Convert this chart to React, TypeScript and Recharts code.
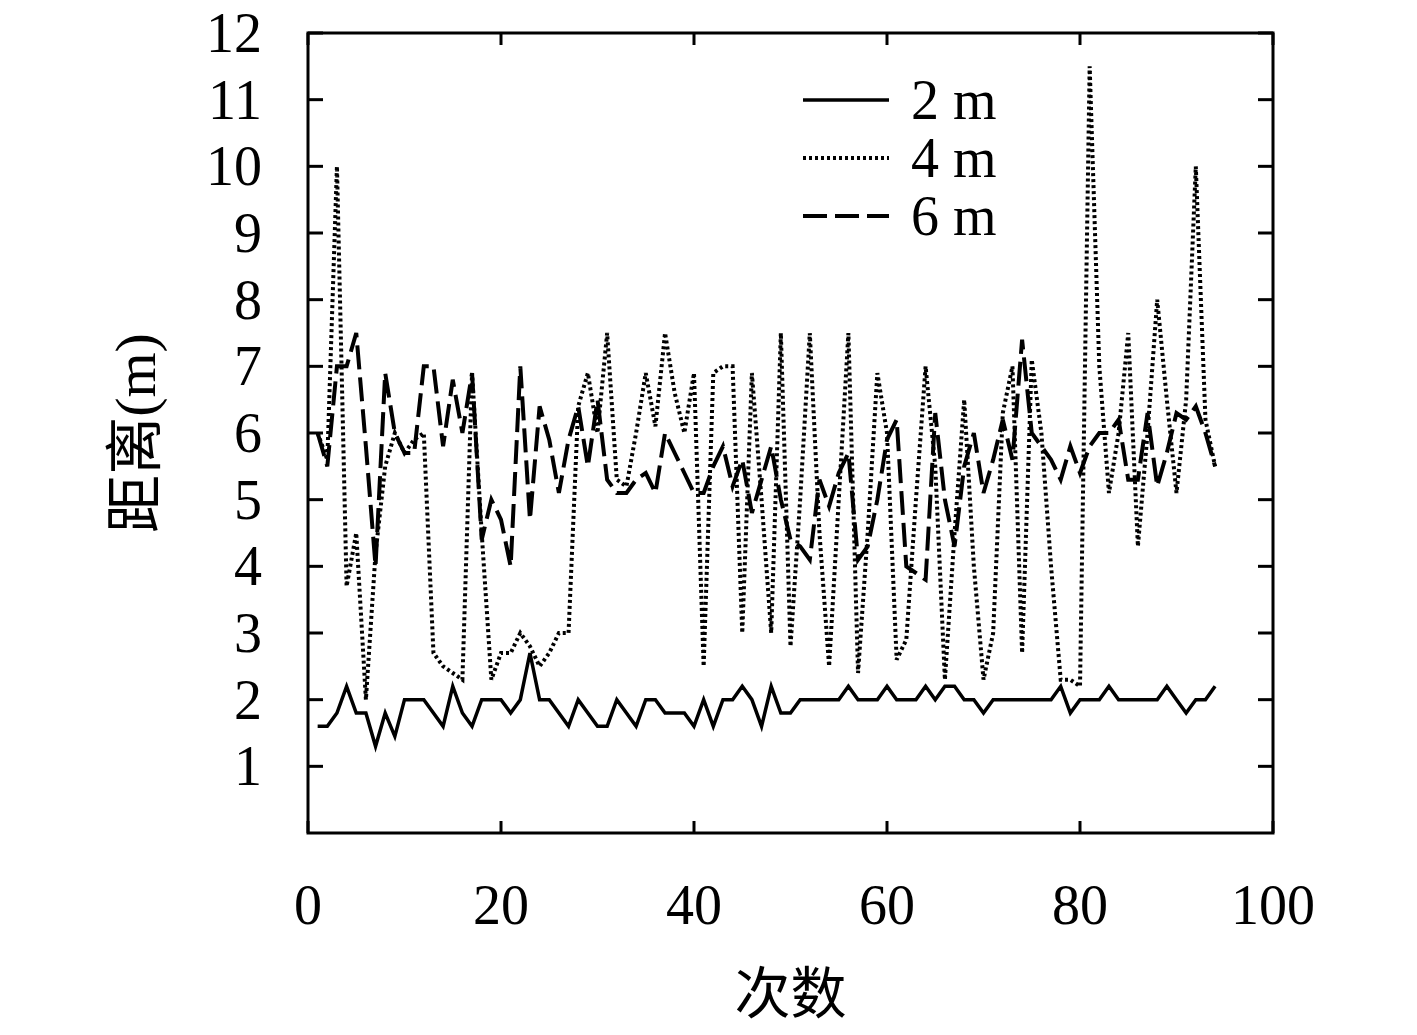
import React from 'react';
import { LineChart, Line, XAxis, YAxis, Label, ReferenceArea } from 'recharts';

// 测量距离 (m), 每次一个读数, 第1次到第94次
const dist2m = [
  1.6, 1.6, 1.8, 2.2, 1.8, 1.8, 1.3, 1.8, 1.45, 2.0,
  2.0, 2.0, 1.8, 1.6, 2.2, 1.8, 1.6, 2.0, 2.0, 2.0,
  1.8, 2.0, 2.7, 2.0, 2.0, 1.8, 1.6, 2.0, 1.8, 1.6,
  1.6, 2.0, 1.8, 1.6, 2.0, 2.0, 1.8, 1.8, 1.8, 1.6,
  2.0, 1.6, 2.0, 2.0, 2.2, 2.0, 1.6, 2.2, 1.8, 1.8,
  2.0, 2.0, 2.0, 2.0, 2.0, 2.2, 2.0, 2.0, 2.0, 2.2,
  2.0, 2.0, 2.0, 2.2, 2.0, 2.2, 2.2, 2.0, 2.0, 1.8,
  2.0, 2.0, 2.0, 2.0, 2.0, 2.0, 2.0, 2.2, 1.8, 2.0,
  2.0, 2.0, 2.2, 2.0, 2.0, 2.0, 2.0, 2.0, 2.2, 2.0,
  1.8, 2.0, 2.0, 2.2,
];

const dist4m = [
  6.0, 5.6, 10.0, 3.7, 4.5, 2.0, 4.2, 5.5, 6.0, 5.7,
  5.9, 6.0, 2.7, 2.5, 2.4, 2.3, 6.9, 4.5, 2.3, 2.7,
  2.7, 3.0, 2.8, 2.5, 2.7, 3.0, 3.0, 6.4, 6.9, 6.0,
  7.5, 5.3, 5.2, 6.0, 6.9, 6.1, 7.5, 6.6, 6.0, 6.9,
  2.5, 6.9, 7.0, 7.0, 3.0, 6.9, 5.0, 3.0, 7.5, 2.8,
  5.0, 7.5, 4.5, 2.5, 5.0, 7.5, 2.4, 4.5, 6.9, 6.0,
  2.6, 2.9, 5.0, 7.0, 5.5, 2.3, 4.5, 6.5, 4.0, 2.3,
  3.0, 6.3, 7.0, 2.7, 7.1, 6.0, 4.0, 2.3, 2.3, 2.2,
  11.5, 7.0, 5.1, 6.0, 7.5, 4.3, 6.0, 8.0, 6.5, 5.1,
  6.5, 10.0, 6.2, 5.5,
];

const dist6m = [
  6.0, 5.5, 7.0, 7.0, 7.5, 5.8, 4.0, 6.9, 6.0, 5.7,
  5.7, 7.0, 7.0, 5.8, 6.8, 6.0, 6.9, 4.4, 5.0, 4.7,
  4.0, 7.0, 4.7, 6.4, 5.9, 5.1, 5.9, 6.4, 5.5, 6.5,
  5.3, 5.1, 5.1, 5.3, 5.4, 5.1, 6.0, 5.7, 5.4, 5.1,
  5.1, 5.5, 5.8, 5.2, 5.6, 4.8, 5.3, 5.8, 5.0, 4.4,
  4.3, 4.1, 5.3, 4.9, 5.4, 5.7, 4.1, 4.3, 5.0, 5.9,
  6.2, 4.0, 3.9, 3.8, 6.3, 5.0, 4.3, 5.5, 6.0, 5.1,
  5.6, 6.2, 5.6, 7.4, 6.0, 5.8, 5.6, 5.3, 5.8, 5.4,
  5.8, 6.0, 6.0, 6.2, 5.3, 5.3, 6.3, 5.2, 5.7, 6.3,
  6.2, 6.4, 6.0, 5.5,
];

const xTicks = [0, 20, 40, 60, 80, 100];
const yTicks = [1, 2, 3, 4, 5, 6, 7, 8, 9, 10, 11, 12];

const series = [
  { key: 'm2', name: '2 m', dash: undefined as string | undefined, width: 3.5 },
  { key: 'm4', name: '4 m', dash: '3 3', width: 4 },
  { key: 'm6', name: '6 m', dash: '24 8', width: 4 },
];

const data = dist2m.map((v, i) => ({ n: i + 1, m2: v, m4: dist4m[i], m6: dist6m[i] }));

// chart box (svg is lifted 10px so the top label has room inside it)
const LIFT = 10;
const W = 1400;
const M = { top: 25 + LIFT, right: 135, left: 100, bottom: 0 };
const Y_AXIS_W = 200;
const X_AXIS_H = 200;
const PLOT_H = 800;
const H = M.top + PLOT_H + X_AXIS_H + M.bottom;
const PLOT_W = W - M.left - M.right - Y_AXIS_W;
const Y_MARGIN = 46;
const X_MARGIN = 53;
const Y_TICK_LEN = 15;
const X_TICK_LEN = 12;

const serif = "'Liberation Serif', 'Noto Sans CJK SC', serif";

// y tick: label on the left, inward ticks on both sides of the frame
const YTick = ({ x, y, payload }: any) => {
  const left = x + Y_MARGIN;
  const right = left + PLOT_W;
  return (
    <g>
      <line x1={left} y1={y} x2={left + Y_TICK_LEN} y2={y} stroke="#000" strokeWidth={3} />
      <line x1={right} y1={y} x2={right - Y_TICK_LEN} y2={y} stroke="#000" strokeWidth={3} />
      <text x={x} y={y} textAnchor="end" dominantBaseline="central" fontSize={56} fontFamily={serif} fill="#000">
        {payload.value}
      </text>
    </g>
  );
};

// x tick: label below, inward ticks on bottom and top of the frame
const XTick = ({ x, y, payload }: any) => {
  const bottom = y - X_MARGIN;
  const top = bottom - PLOT_H;
  return (
    <g>
      <line x1={x} y1={bottom} x2={x} y2={bottom - X_TICK_LEN} stroke="#000" strokeWidth={3} />
      <line x1={x} y1={top} x2={x} y2={top + X_TICK_LEN} stroke="#000" strokeWidth={3} />
      <text x={x} y={y + 38} textAnchor="middle" fontSize={56} fontFamily={serif} fill="#000">
        {payload.value}
      </text>
    </g>
  );
};

const App = () => {
  return (
    <div
      style={{ position: 'relative', width: W, height: H, marginTop: -LIFT, marginBottom: -8, background: '#fff' }}
    >
      <LineChart width={W} height={H} data={data} margin={M}>
        <XAxis
          dataKey="n"
          type="number"
          domain={[0, 100]}
          ticks={xTicks}
          interval={0}
          height={X_AXIS_H}
          tickLine={false}
          tickSize={0}
          tickMargin={X_MARGIN}
          tick={<XTick />}
          axisLine={false}
        >
          <Label
            content={({ viewBox }: any) => (
              <text
                x={viewBox.x + viewBox.width / 2}
                y={viewBox.y + 180}
                textAnchor="middle"
                fontSize={56}
                fontFamily="'Noto Sans CJK SC', sans-serif"
                fill="#000"
              >
                次数
              </text>
            )}
          />
        </XAxis>
        <YAxis
          type="number"
          domain={[0, 12]}
          ticks={yTicks}
          interval={0}
          width={Y_AXIS_W}
          tickLine={false}
          tickSize={0}
          tickMargin={Y_MARGIN}
          tick={<YTick />}
          axisLine={false}
        >
          <Label
            content={({ viewBox }: any) => {
              const cx = viewBox.x + 27;
              const cy = viewBox.y + viewBox.height / 2;
              return (
                <text
                  x={cx}
                  y={cy}
                  transform={`rotate(-90 ${cx} ${cy})`}
                  textAnchor="middle"
                  dominantBaseline="central"
                  fontSize={58}
                  fontFamily={serif}
                  fill="#000"
                >
                  距离(m)
                </text>
              );
            }}
          />
        </YAxis>
        <ReferenceArea x1={0} x2={100} y1={0} y2={12} fill="none" stroke="#000" strokeWidth={3} ifOverflow="visible" />
        {series.map((s) => (
          <Line
            key={s.key}
            type="linear"
            dataKey={s.key}
            name={s.name}
            stroke="#000"
            strokeWidth={s.width}
            strokeDasharray={s.dash}
            dot={false}
            activeDot={false}
            isAnimationActive={false}
          />
        ))}
      </LineChart>

      {/* legend, top right inside the frame */}
      <div style={{ position: 'absolute', left: 795, top: 63 + LIFT }}>
        {series.map((s) => (
          <div key={s.key} style={{ display: 'flex', alignItems: 'center', height: 58 }}>
            <svg width={86} height={10}>
              <line x1={0} y1={5} x2={86} y2={5} stroke="#000" strokeWidth={s.width} strokeDasharray={s.dash} />
            </svg>
            <span style={{ marginLeft: 22, fontSize: 56, fontFamily: serif, lineHeight: '58px' }}>{s.name}</span>
          </div>
        ))}
      </div>
    </div>
  );
};

export default App;
